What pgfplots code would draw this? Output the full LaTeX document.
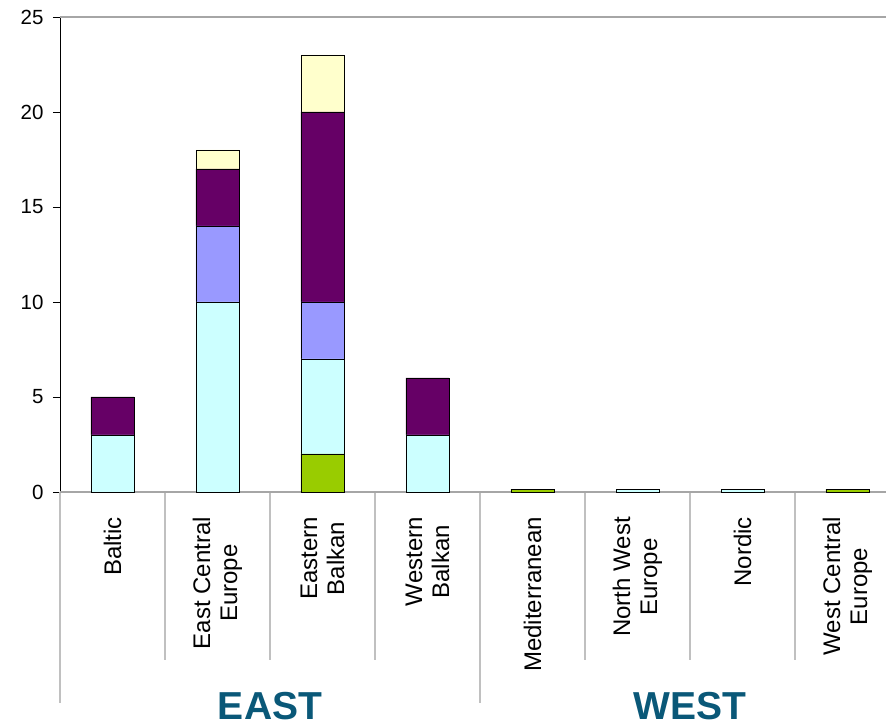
\documentclass[border=0pt]{standalone}
\usepackage{pgfplots}
\pgfplotsset{compat=1.18}
\usepackage{fontspec}
\setmainfont{Liberation Sans}
\definecolor{cgreen}{HTML}{99CC00}
\definecolor{ccyan}{HTML}{CCFFFF}
\definecolor{clav}{HTML}{9999FF}
\definecolor{cpurple}{HTML}{660066}
\definecolor{cyellow}{HTML}{FFFFCC}
\definecolor{sepgray}{HTML}{C0C0C0}
\definecolor{axgray}{HTML}{A6A6A6}
\definecolor{grpblue}{HTML}{0A5878}
\begin{document}
\begin{tikzpicture}[x=1pt,y=1pt]
\begin{axis}[
  at={(60pt,236pt)}, anchor=south west,
  scale only axis, width=826pt, height=475pt,
  ybar stacked, bar width=43pt,
  xmin=-0.5, xmax=7.367, ymin=0, ymax=25,
  clip=false,
  axis line style={draw=none},
  ytick={0,5,10,15,20,25},
  ytick pos=left,
  ytick style={black, line width=0.8pt},
  tick align=outside,
  major tick length=7pt,
  xtick={0,...,7},
  xtick style={draw=none},
  xticklabels={Baltic,{East Central\\Europe},{Eastern\\Balkan},{Western\\Balkan},Mediterranean,{North West\\Europe},Nordic,{West Central\\Europe}},
  x tick label style={rotate=90, anchor=east, align=center, font=\fontsize{24}{27}\selectfont, inner sep=0pt},
  xticklabel shift=18pt,
  /pgf/number format/assume math mode=true,
  y tick label style={font=\fontsize{20.5}{22}\selectfont},
  yticklabel shift=6pt,
  every axis plot/.append style={draw=black, line width=0.8pt},
]
\addplot[fill=cgreen] coordinates {(0,0) (1,0) (2,2) (3,0) (4,0.15) (5,0) (6,0) (7,0.15)};
\addplot[fill=ccyan] coordinates {(0,3) (1,10) (2,5) (3,3) (4,0) (5,0.15) (6,0.15) (7,0)};
\addplot[fill=clav] coordinates {(0,0) (1,4) (2,3) (3,0) (4,0) (5,0) (6,0) (7,0)};
\addplot[fill=cpurple] coordinates {(0,2) (1,3) (2,10) (3,3) (4,0) (5,0) (6,0) (7,0)};
\addplot[fill=cyellow] coordinates {(0,0) (1,1) (2,3) (3,0) (4,0) (5,0) (6,0) (7,0)};
% axis lines
\draw[axgray, line width=1.2pt] (axis cs:-0.5,25) -- (axis cs:7.367,25);
\draw[axgray, line width=1.5pt] (axis cs:-0.5,0) -- (axis cs:7.367,0);
\draw[black, line width=1pt] (axis cs:-0.5,0) -- (axis cs:-0.5,25);
% separators
\pgfplotsinvokeforeach{0.5,1.5,2.5,4.5,5.5,6.5}{
  \draw[sepgray, line width=1.2pt] (axis cs:#1,0) -- ([yshift=-168pt]axis cs:#1,0);
}
\pgfplotsinvokeforeach{-0.5,3.5}{
  \draw[sepgray, line width=1.2pt] (axis cs:#1,0) -- ([yshift=-211pt]axis cs:#1,0);
}
\node[anchor=base, inner sep=0pt, text depth=0pt, text=grpblue, font=\fontsize{39}{40}\selectfont\bfseries] at ([yshift=-227pt]axis cs:1.5,0) {EAST};
\node[anchor=base, inner sep=0pt, text depth=0pt, text=grpblue, font=\fontsize{39}{40}\selectfont\bfseries] at ([yshift=-227pt]axis cs:5.5,0) {WEST};
\end{axis}
\pgfresetboundingbox
\path[use as bounding box] (0,0) rectangle (886,728);
\end{tikzpicture}
\end{document}
